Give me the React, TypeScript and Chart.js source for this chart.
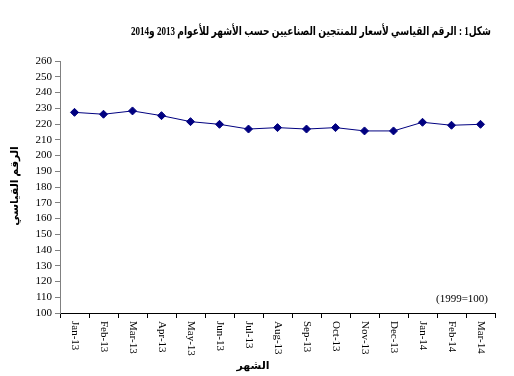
import React, { useEffect, useRef } from "react";
import { Chart, registerables } from "chart.js";

Chart.register(...registerables);

const months = ["Jan-13", "Feb-13", "Mar-13", "Apr-13", "May-13", "Jun-13", "Jul-13", "Aug-13", "Sep-13", "Oct-13", "Nov-13", "Dec-13", "Jan-14", "Feb-14", "Mar-14"];
const indexValues = [227.4, 226.2, 228.3, 225.3, 221.5, 219.8, 216.8, 217.7, 216.8, 217.7, 215.6, 215.6, 221.1, 219.2, 219.8];
const yMin = 100;
const yMax = 260;
const yStep = 10;
const titleText = "شكل1 : الرقم القياسي لأسعار للمنتجين الصناعيين حسب الأشهر للأعوام 2013 و2014";
const yTitle = "الرقم القياسي";
const xTitle = "الشهر";
const baseNote = "(1999=100)";

const SERIF = "'Liberation Serif', 'DejaVu Serif', 'DejaVu Sans', serif";

const textPlugin = {
  id: "customText",
  afterDraw(chart: any) {
    const ctx = chart.ctx;
    const xs = chart.scales.x;
    const area = chart.chartArea;
    ctx.save();
    ctx.fillStyle = "#000";
    // x labels rotated clockwise
    ctx.font = `11px ${SERIF}`;
    ctx.textAlign = "left";
    ctx.textBaseline = "middle";
    months.forEach((m, i) => {
      const x = xs.getPixelForValue(i);
      ctx.save();
      ctx.translate(x, area.bottom + 8);
      ctx.rotate(Math.PI / 2);
      ctx.fillText(m, 0, 0);
      ctx.restore();
    });
    // note
    ctx.textAlign = "right";
    ctx.fillText(baseNote, area.right - 7, area.bottom - 14);
    // title
    ctx.font = `bold 12px ${SERIF}`;
    ctx.direction = "rtl";
    ctx.textAlign = "center";
    ctx.fillText(titleText, 311, 32, 360);
    // x title
    ctx.font = `bold 11px ${SERIF}`;
    ctx.fillText(xTitle, 253, 366);
    // y title
    ctx.save();
    ctx.translate(15, 186);
    ctx.rotate(-Math.PI / 2);
    ctx.fillText(yTitle, 0, 0);
    ctx.restore();
    ctx.restore();
  },
};

export default function App() {
  const ref = useRef<HTMLCanvasElement>(null);
  useEffect(() => {
    document.body.style.margin = "0";
    const chart = new Chart(ref.current!, {
      type: "line",
      data: {
        labels: months,
        datasets: [
          {
            data: indexValues,
            borderColor: "#000080",
            backgroundColor: "#000080",
            borderWidth: 1,
            pointStyle: "rectRot",
            pointRadius: 4,
            pointBackgroundColor: "#000080",
            pointBorderColor: "#000080",
            tension: 0,
          },
        ],
      },
      options: {
        animation: false,
        responsive: false,
        layout: { padding: { top: 61, right: 19, left: 0, bottom: 0 } },
        plugins: { legend: { display: false }, tooltip: { enabled: false }, title: { display: false } },
        scales: {
          x: {
            offset: true,
            grid: { display: true, offset: true, drawOnChartArea: false, tickLength: 5, color: "#000" },
            border: { color: "#000" },
            ticks: { display: false },
            afterFit: (s: any) => { s.height = 63; },
          },
          y: {
            min: yMin,
            max: yMax,
            ticks: { stepSize: yStep, autoSkip: false, color: "#000", font: { family: SERIF, size: 11 }, padding: 3 },
            grid: { display: true, drawOnChartArea: false, tickLength: 5, color: "#808080" },
            border: { color: "#808080" },
            afterFit: (s: any) => { s.width = 60; },
          },
        },
      },
      plugins: [textPlugin],
    });
    return () => chart.destroy();
  }, []);
  return (
    <div style={{ position: "fixed", left: 0, top: 0, width: 514, height: 376, background: "#fff" }}>
      <canvas ref={ref} width={514} height={376} style={{ width: 514, height: 376 }} />
    </div>
  );
}
